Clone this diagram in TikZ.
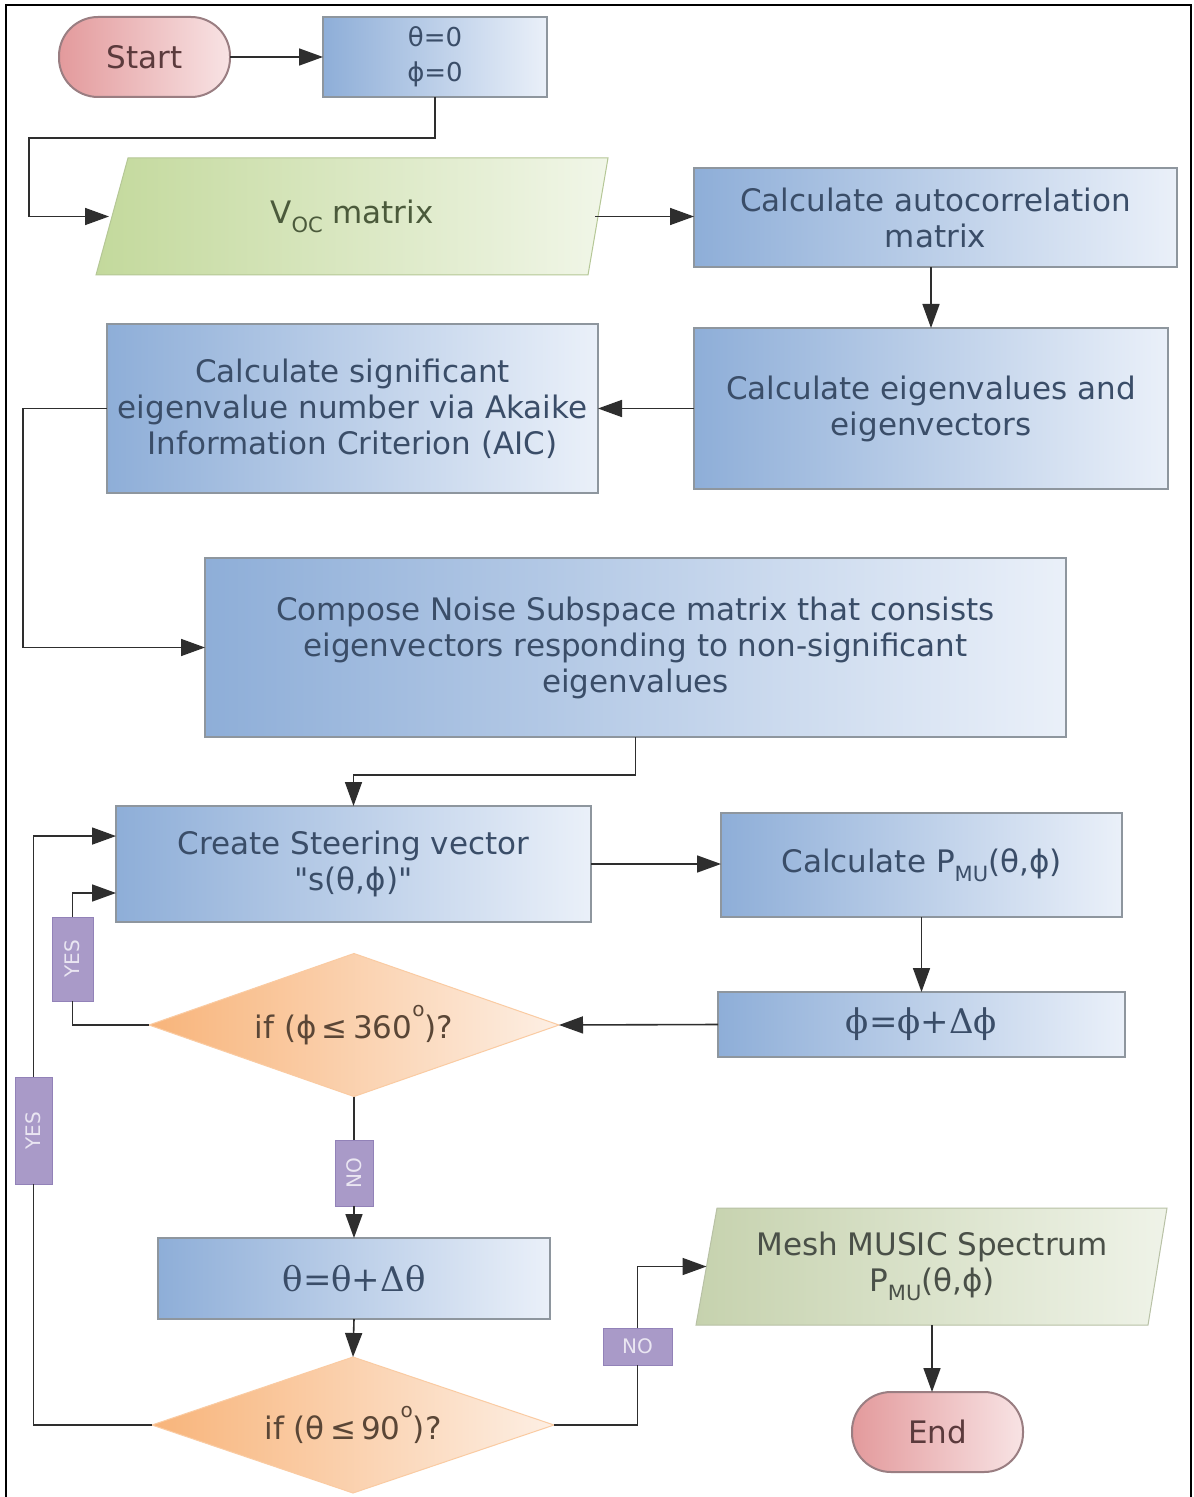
\documentclass[tikz,border=0pt]{standalone}
\usepackage{fontspec}
\setmainfont{DejaVu Sans}[Ligatures=TeXOff]
\newfontfamily\eqfont{DejaVu Serif}
\usetikzlibrary{shapes.geometric,arrows.meta,calc}
\definecolor{blueL}{HTML}{8EAED8}
\definecolor{blueR}{HTML}{EAF0F9}
\definecolor{blueT}{HTML}{3A4D68}
\definecolor{boxline}{HTML}{8E969E}
\definecolor{greenL}{HTML}{C3D99C}
\definecolor{greenR}{HTML}{F1F6E8}
\definecolor{greenT}{HTML}{4B5A3B}
\definecolor{meshL}{HTML}{C6D2AE}
\definecolor{meshR}{HTML}{EFF3E8}
\definecolor{meshT}{HTML}{4A5048}
\definecolor{redL}{HTML}{E39A9C}
\definecolor{redR}{HTML}{F8E3E4}
\definecolor{redT}{HTML}{5B3A3C}
\definecolor{termline}{HTML}{9A7E82}
\definecolor{orL}{HTML}{F8B47A}
\definecolor{orR}{HTML}{FDEFE4}
\definecolor{orT}{HTML}{5A4636}
\definecolor{tagF}{HTML}{A99AC8}
\definecolor{tagD}{HTML}{9282B8}
\definecolor{tagT}{HTML}{EAE6F2}
\definecolor{linec}{HTML}{2E2E2E}
\newcommand\mainsz{\fontsize{15.5}{18}\selectfont}
\newcommand\initsz{\fontsize{13}{17.5}\selectfont}
\newcommand\eqsz{\eqfont\fontsize{17}{20}\selectfont}
\newcommand\tagsz{\fontsize{10}{12}\selectfont}
\newcommand\subtxt[1]{\raisebox{-0.55ex}{\fontsize{10.5}{12}\selectfont #1}}
\newcommand\dego{\raisebox{1.3ex}{\fontsize{10}{12}\selectfont o}}
\tikzset{
  frameline/.style={draw=black, line width=1pt},
  conn/.style={draw=linec, line width=0.8pt},
  arr/.style={conn, -{Triangle[length=12pt,width=8.5pt]}},
  bluebox/.style={rectangle, draw=boxline, line width=1pt, left color=blueL, right color=blueR,
    text=blueT, inner sep=0pt, outer sep=0pt, align=center, font=\mainsz},
  term/.style={rectangle, rounded corners=19.5pt, draw=termline, line width=1pt,
    left color=redL, right color=redR, text=redT, minimum width=85.5pt, minimum height=40pt,
    font=\mainsz, inner sep=0pt, outer sep=0pt},
  decision/.style={diamond, draw=orL!70!white, line width=0.5pt, left color=orL, right color=orR,
    text=orT, font=\mainsz, inner sep=0pt, outer sep=0pt},
  greenpoly/.style={draw=greenL!80!gray, line width=0.5pt, left color=greenL, right color=greenR},
  meshpoly/.style={draw=meshL!80!gray, line width=0.5pt, left color=meshL, right color=meshR},
  ghost/.style={rectangle, inner sep=0pt, outer sep=0pt, align=center, font=\mainsz},
  tag/.style={rectangle, fill=tagF, draw=tagD, line width=0.5pt, text=tagT, font=\tagsz,
    inner sep=0pt, outer sep=0pt}
}
\begin{document}
\begin{tikzpicture}[x=0.5pt,y=-0.5pt]
\useasboundingbox (0,0) rectangle (1193,1497);
\fill[white] (0,0) rectangle (1193,1497);
\draw[frameline] (6,1540) -- (6,5) -- (1191,5) -- (1191,1540);

% nodes
\node[term] (start) at (144.5,57) {Start};
\node[bluebox, minimum width=112pt, minimum height=40pt, font=\initsz] (init) at (435,57) {θ=0\\ϕ=0};
\shade[greenpoly] (128,158) -- (608,158) -- (588,275) -- (96,275) -- cycle;
\node[ghost, text=greenT, minimum width=243pt, minimum height=58.5pt] (voc) at (352,216.5) {V\subtxt{OC} matrix};
\node[bluebox, minimum width=241.5pt, minimum height=49.5pt] (auto) at (935.5,217.5) {Calculate autocorrelation\\matrix};
\node[bluebox, minimum width=237pt, minimum height=80.5pt] (eig) at (931,408.5) {Calculate eigenvalues and\\eigenvectors};
\node[bluebox, minimum width=245.5pt, minimum height=84.5pt] (aic) at (352.5,408.5) {Calculate significant\\eigenvalue number via Akaike\\Information Criterion (AIC)};
\node[bluebox, minimum width=430.5pt, minimum height=89.5pt] (noise) at (635.5,647.5) {Compose Noise Subspace matrix that consists\\eigenvectors responding to non-significant\\eigenvalues};
\node[bluebox, minimum width=237.5pt, minimum height=58pt] (steer) at (353.5,864) {Create Steering vector\\"s(θ,ϕ)"};
\node[bluebox, minimum width=200.5pt, minimum height=52pt] (pmu) at (921.5,865) {Calculate P\subtxt{MU}(θ,ϕ)};
\node[bluebox, minimum width=203.5pt, minimum height=32.5pt, font=\eqsz] (phiup) at (921.5,1024.5) {ϕ=ϕ+Δϕ};
\node[decision, aspect=2.87, minimum width=205pt, minimum height=71.5pt] (dphi) at (354,1025) {if (ϕ\,≤\,360\dego)?};
\node[bluebox, minimum width=196pt, minimum height=40.5pt, font=\eqsz] (thup) at (354,1278.5) {θ=θ+Δθ};
\node[decision, aspect=2.96, minimum width=201pt, minimum height=68pt] (dth) at (353,1425) {if (θ\,≤\,90\dego)?};
\shade[meshpoly] (717,1208) -- (1167,1208) -- (1148,1325) -- (696,1325) -- cycle;
\node[ghost, text=meshT, minimum width=225.5pt, minimum height=58.5pt] (mesh) at (932,1266.5) {Mesh MUSIC Spectrum\\P\subtxt{MU}(θ,ϕ)};
\node[term] (end) at (937.5,1432) {End};

% tags
\node[tag, minimum width=20.5pt, minimum height=42pt] (yes1) at (72.5,959) {\rotatebox{90}{YES}};
\node[tag, minimum width=18.5pt, minimum height=53.5pt] (yes2) at (33.5,1130.5) {\rotatebox{90}{YES}};
\node[tag, minimum width=19pt, minimum height=33pt] (no1) at (354,1173) {\rotatebox{90}{NO}};
\node[tag, minimum width=34.5pt, minimum height=18.5pt] (no2) at (637.5,1346.5) {NO};

% helper coordinates
\coordinate (b1) at (29,138);
\coordinate (b2) at (23,408.5);
\coordinate (b3) at (635.5,775);
\coordinate (stin1) at ($(steer.south west)!0.741!(steer.north west)$);
\coordinate (stin2) at ($(steer.south west)!0.25!(steer.north west)$);

% connectors
\draw[arr] (start.east) -- (init.west);
\draw[arr] (init.south) |- (b1) |- (voc.west);
\draw[arr] (voc.east) -- (voc.east -| auto.west);
\draw[arr] (eig.north |- auto.south) -- (eig.north);
\draw[arr] (eig.west) -- (aic.east);
\draw[arr] (aic.west) -- (b2) |- (noise.west);
\draw[arr] (noise.south) -- (b3) -| (steer.north);
\draw[arr] (steer.east) -- (steer.east -| pmu.west);
\draw[arr] (pmu.south) -- (phiup.north);
\draw[arr] (phiup.west) -- (dphi.east);
\draw[conn] (dphi.west) -| (yes1);
\draw[arr] (yes1) |- (stin2);
\draw[conn] (dphi.south) -- (no1);
\draw[arr] (no1) -- (thup.north);
\draw[arr] (thup.south) -- (dth.north);
\draw[conn] (dth.west) -| (yes2);
\draw[arr] (yes2) |- (stin1);
\draw[conn] (dth.east) -| (no2);
\draw[arr] (no2) |- (mesh.west);
\draw[arr] (mesh.south) -- (mesh.south |- end.north);
\end{tikzpicture}
\end{document}
